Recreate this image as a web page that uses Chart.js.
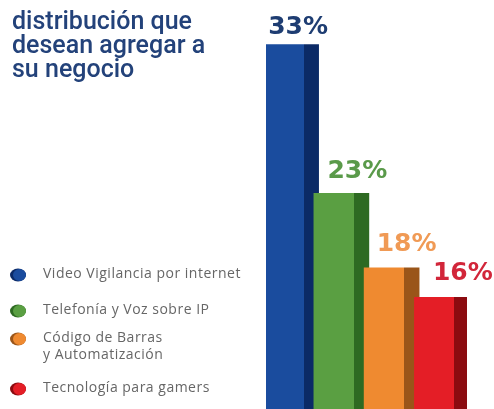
<!DOCTYPE html>
<html>
<head>
<meta charset="utf-8">
<style>
  html, body { margin: 0; padding: 0; background: #ffffff; }
  #wrap { position: relative; width: 494px; height: 409px; overflow: hidden; }
  canvas { display: block; }
</style>
<script src="https://cdn.jsdelivr.net/npm/chart.js@4.4.1/dist/chart.umd.min.js"></script>
</head>
<body>
<div id="wrap"><canvas id="c" width="494" height="409"></canvas></div>
<script>
// Soluciones que desean agregar a su negocio (%)
const categories = [
  'Video Vigilancia por internet',
  'Telefonía y Voz sobre IP',
  ['Código de Barras', 'y Automatización'],
  'Tecnología para gamers'
];
const values = [33, 23, 18, 16];
const valueLabels = ['33%', '23%', '18%', '16%'];
const titleLines = ['distribución que', 'desean agregar a', 'su negocio'];

// front face / shaded side / label colour for each bar
const faceColors = ['#1a4c9e', '#5a9f42', '#ef8a30', '#e41e26'];
const sideColors = ['#0b2a66', '#2e6a22', '#9a5519', '#8b0b10'];
const labelColors = ['#1e3d72', '#5a9a4a', '#f09a55', '#d2263a'];

// paints each bar with a lit front face and a darker right side
const shadedBars = {
  id: 'shadedBars',
  beforeDatasetsDraw(chart) {
    const ctx = chart.ctx;
    chart.getDatasetMeta(0).data.forEach((bar, i) => {
      const left = bar.x - bar.width / 2;
      const right = bar.x + bar.width / 2;
      const split = (right - 15 - left) / (right - left);
      const g = ctx.createLinearGradient(left, 0, right, 0);
      g.addColorStop(0, faceColors[i]);
      g.addColorStop(split, faceColors[i]);
      g.addColorStop(split, sideColors[i]);
      g.addColorStop(1, sideColors[i]);
      bar.options.backgroundColor = g;
    });
  }
};

// value labels above the bars
const valueText = {
  id: 'valueText',
  afterDatasetsDraw(chart) {
    const ctx = chart.ctx;
    const offsets = [7, 16, 15, 21];
    const gaps = [11, 15, 17, 17];
    ctx.save();
    ctx.font = 'bold 25px "DejaVu Sans", sans-serif';
    ctx.textAlign = 'center';
    ctx.textBaseline = 'alphabetic';
    chart.getDatasetMeta(0).data.forEach((bar, i) => {
      ctx.fillStyle = labelColors[i];
      ctx.fillText(valueLabels[i], bar.x + offsets[i], bar.y - gaps[i]);
    });
    ctx.restore();
  }
};

// heading and category key on the left side
const sidePanel = {
  id: 'sidePanel',
  afterDraw(chart) {
    const ctx = chart.ctx;
    ctx.save();
    ctx.fillStyle = '#23427a';
    ctx.font = '500 25px Roboto, "Liberation Sans", sans-serif';
    ctx.textBaseline = 'alphabetic';
    titleLines.forEach((t, i) => ctx.fillText(t, 12, 29 + i * 24));

    const rowY = [274, 310, 338, 388];
    ctx.font = '14px "Open Sans", sans-serif';
    ctx.letterSpacing = '0.5px';
    ctx.textBaseline = 'middle';
    categories.forEach((c, i) => {
      const y = rowY[i];
      ctx.fillStyle = sideColors[i];
      ctx.beginPath();
      ctx.ellipse(18, y + 1, 8, 6.5, 0, 0, Math.PI * 2);
      ctx.fill();
      ctx.fillStyle = faceColors[i];
      ctx.beginPath();
      ctx.ellipse(19.5, y + 1, 6.5, 6, 0, 0, Math.PI * 2);
      ctx.fill();
      ctx.fillStyle = '#666666';
      const lines = Array.isArray(c) ? c : [c];
      lines.forEach((l, k) => ctx.fillText(l, 43, y + k * 17));
    });
    ctx.restore();
  }
};

new Chart(document.getElementById('c'), {
  type: 'bar',
  data: {
    labels: categories,
    datasets: [{
      data: values,
      backgroundColor: faceColors,
      borderWidth: 0,
      barThickness: 55
    }]
  },
  options: {
    responsive: false,
    animation: false,
    layout: { padding: { left: 266, right: 27, top: 0, bottom: 0 } },
    scales: {
      x: { display: false, grid: { display: false } },
      y: { display: false, min: 8.5, max: 36, grid: { display: false } }
    },
    plugins: {
      legend: { display: false },
      tooltip: { enabled: false }
    }
  },
  plugins: [shadedBars, valueText, sidePanel]
});
</script>
</body>
</html>
